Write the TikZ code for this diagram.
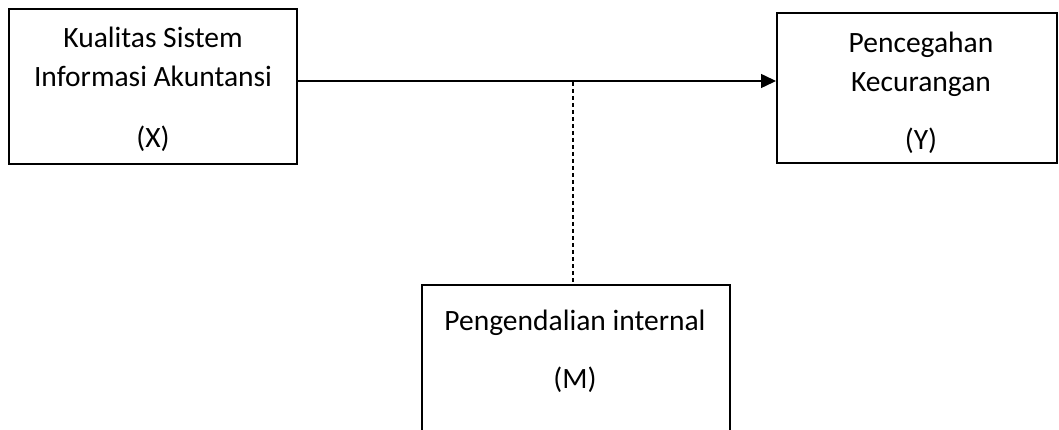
\documentclass[tikz,border=0pt]{standalone}
\usepackage{fontspec}
\setmainfont{Carlito}
\usetikzlibrary{arrows.meta}
\begin{document}
\begin{tikzpicture}[x=1pt,y=-1pt,
  box/.style={draw=black,line width=2pt,fill=none,inner sep=0pt},
  lbl/.style={anchor=base,inner sep=0pt,font=\fontsize{29.5}{35}\selectfont},
  conn/.style={line width=1.5pt,-{Triangle[length=15pt,width=14pt]}},
  dash line/.style={line width=1.1pt,dash pattern=on 4pt off 3pt}]
\useasboundingbox (0,0) rectangle (1059,430);
\clip (0,0) rectangle (1059,430);
\fill[white] (0,0) rectangle (1059,430);
% boxes
\node[box,minimum width=288pt,minimum height=155pt] (X) at (153,86.5) {};
\node[box,minimum width=280pt,minimum height=150pt] (Y) at (917,88) {};
\node[box,minimum width=308pt,minimum height=155pt] (M) at (576,362.5) {};
% texts
\node[lbl] (x1) at (153,48) {Kualitas Sistem};
\node[lbl] (x2) at (153,87) {Informasi Akuntansi};
\node[lbl] (x3) at (153,148) {(X)};
\node[lbl] (y1) at (921,53) {Pencegahan};
\node[lbl] (y2) at (921,92) {Kecurangan};
\node[lbl] (y3) at (921,150) {(Y)};
\node[lbl] (m1) at (575,330) {Pengendalian internal};
\node[lbl] (m2) at (575,388) {(M)};
% connectors
\coordinate (ay) at (0,81);
\coordinate (dtop) at (573,82);
\draw[conn] (X.east |- ay) -- (Y.west |- ay);
\draw[dash line] (dtop) -- (dtop |- M.north);
\end{tikzpicture}
\end{document}
